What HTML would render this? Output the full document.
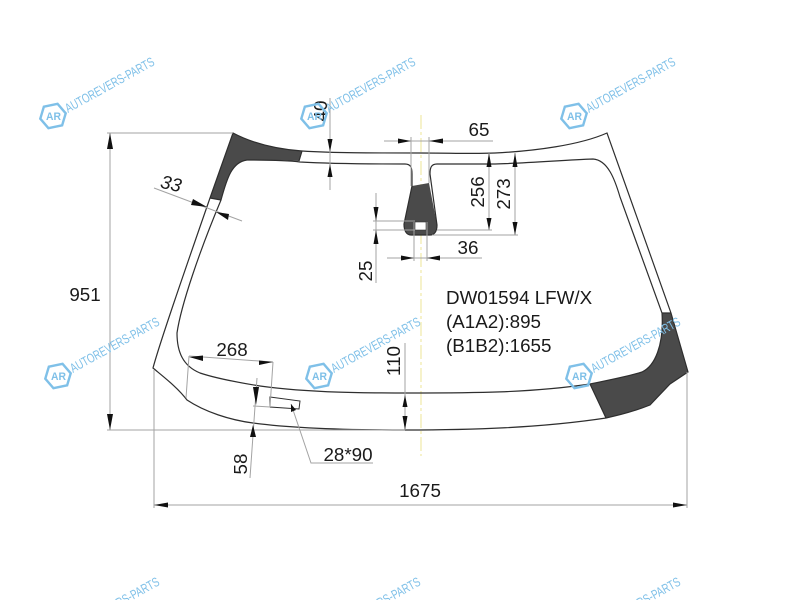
<!DOCTYPE html>
<html><head><meta charset="utf-8"><style>html,body{margin:0;padding:0;background:#fff;width:800px;height:600px;overflow:hidden}svg{display:block}text{font-family:"Liberation Sans",sans-serif;fill:#1a1a1a}.w{font-size:13px;fill:#7fc0e8}.a{font-size:11px;fill:#7fc0e8;font-weight:bold}.h{fill:none;stroke:#7fc0e8;stroke-width:2.4}</style></head><body>
<svg width="800" height="600" viewBox="0 0 800 600" xmlns="http://www.w3.org/2000/svg">
<!-- yellow centre line -->
<path d="M421 115V456" stroke="#efe9a8" stroke-width="1.2" stroke-dasharray="14 3 3 3" fill="none"/>
<!-- dark fills -->
<g fill="#4a4a4a" stroke="none">
<path d="M233 133C252 143 275 149 302 151L299 161C285 160 265 160 247 160C232 162 227 178 221 200L210 198Z"/>
<path d="M412 186L429 183L437 225C437 232 434 235 430 235H411C406 235 404 230 404 224Z"/>
<path d="M590 384C610 380 630 376 642 372C655 366 664 345 662 313H671L688 372L670 384L650 405C635 411 620 415 606 418Z"/>
</g>
<rect x="415" y="222" width="11" height="8" fill="#fff" stroke="#333" stroke-width=".6"/>
<!-- glass outline -->
<g fill="none" stroke="#2e2e2e" stroke-width="1.2">
<path d="M233 133C252 143 275 149 302 151C335 153 370 153 420 153C450 153 475 154 495 153C535 151 580 145 607 133L671 313L688 372L670 384L650 405C635 411 620 415 606 418C540 428 470 430 405 430C340 430 290 428 253 423C230 420 205 412 187 400C178 388 165 378 153 368C160 342 185 270 210 198Z"/>
<path d="M247 160C265 160 285 160 300 162C335 164 375 164 405 164C411 164 412 168 412 174V186L404 224C404 230 406 235 411 235H430C434 235 437 232 437 225L430 174C430 168 431 164 437 164H495C530 163 565 160 593 159C608 160 615 180 620 197L662 313C664 345 655 366 642 372C630 376 610 380 590 384C530 393 470 393 410 393C370 393 310 393 260 386C235 382 215 378 200 373C183 366 177 352 177 333C181 305 200 250 221 200C227 178 232 162 247 160Z"/>
<path d="M210 198L221 200M302 151L299 161M662 313H671M590 384L606 418"/>
<path d="M270 397L300 401L299 409L270 407Z" stroke-width="1"/>
</g>
<!-- dimension lines -->
<g fill="none" stroke="#a3a3a3" stroke-width="1">
<path d="M107 133H233M107 430H405M110 133V430"/>
<path d="M154 370V508M687 372V508M154 505H687"/>
<path d="M154 188L242 221"/>
<path d="M330 98V190"/>
<path d="M384 141H493M411 137V186M429 137V183"/>
<path d="M489 153V230M437 230H492M515 153V235M432 235H518"/>
<path d="M387 258H482M414 222V261M427 222V261"/>
<path d="M376 193V283M373 221H415M373 230H415"/>
<path d="M189 356L273 362M189 356L186 398M273 362L270 407"/>
<path d="M257 378L250 478M253 406L270 407"/>
<path d="M405 343V430"/>
<path d="M291 404L311 463H373"/>
</g>
<!-- arrowheads -->
<g fill="#111" stroke="none">
<path d="M110 133L107 149H113Z"/><path d="M110 430L107 414H113Z"/>
<path d="M154 505L168 502.500V507.500Z"/><path d="M687 505L673 502.500V507.500Z"/>
<path d="M207 207L193 199L191 205Z"/><path d="M216 212L229 214L228 220Z"/>
<path d="M330 152L327.500 139H332.500Z"/><path d="M330 164L327.500 177H332.500Z"/>
<path d="M411 141L398 138.500V143.500Z"/><path d="M429 141L443 138.500V143.500Z"/>
<path d="M489 153L486.500 167H491.500Z"/><path d="M489 230L486.500 218H491.500Z"/>
<path d="M515 153L512.500 167H517.500Z"/><path d="M515 235L512.500 222H517.500Z"/>
<path d="M414 258L401 255.500V260.500Z"/><path d="M427 258L440 255.500V260.500Z"/>
<path d="M376 221L373.500 207H378.500Z"/><path d="M376 230L373.500 244H378.500Z"/>
<path d="M189 357L203 355.500L203 361Z"/><path d="M273 362L259 360.500L259 365Z"/>
<path d="M256 405L253 387H259Z"/><path d="M253 425L250 437H256Z"/>
<path d="M405 395L402.500 407H407.500Z"/><path d="M405 430L402.500 416H407.500Z"/>
<path d="M291 404L291 412L296 410Z"/>
</g>
<!-- labels -->
<g font-size="18.800">
<text x="85" y="301" text-anchor="middle">951</text>
<text x="420" y="497" text-anchor="middle">1675</text>
<text x="479" y="136" text-anchor="middle">65</text>
<text x="468" y="254" text-anchor="middle">36</text>
<text x="232" y="356" text-anchor="middle">268</text>
<text x="348" y="461" text-anchor="middle">28*90</text>
<text transform="translate(171 184) rotate(13)" text-anchor="middle" font-style="italic" y="6">33</text>
<text transform="translate(327 111) rotate(-90)" text-anchor="middle">40</text>
<text transform="translate(484 192) rotate(-90)" text-anchor="middle">256</text>
<text transform="translate(510 194) rotate(-90)" text-anchor="middle">273</text>
<text transform="translate(372 271) rotate(-90)" text-anchor="middle">25</text>
<text transform="translate(400 361) rotate(-90)" text-anchor="middle">110</text>
<text transform="translate(247 464) rotate(-90)" text-anchor="middle">58</text>
<text x="446" y="304">DW01594 LFW/X</text>
<text x="446" y="328">(A1A2):895</text>
<text x="446" y="352">(B1B2):1655</text>
</g>
<!-- watermarks -->
<g transform="translate(53 116)"><path class="h" d="M-7-11H7L13 0L7 11H-7L-13 0Z" transform="rotate(-12)"/><text class="a" x="-7" y="4" textLength="15" lengthAdjust="spacingAndGlyphs">AR</text><text class="w" transform="translate(15 -3) rotate(-29)" textLength="100" lengthAdjust="spacingAndGlyphs">AUTOREVERS-PARTS</text></g>
<g transform="translate(314 116)"><path class="h" d="M-7-11H7L13 0L7 11H-7L-13 0Z" transform="rotate(-12)"/><text class="a" x="-7" y="4" textLength="15" lengthAdjust="spacingAndGlyphs">AR</text><text class="w" transform="translate(15 -3) rotate(-29)" textLength="100" lengthAdjust="spacingAndGlyphs">AUTOREVERS-PARTS</text></g>
<g transform="translate(574 116)"><path class="h" d="M-7-11H7L13 0L7 11H-7L-13 0Z" transform="rotate(-12)"/><text class="a" x="-7" y="4" textLength="15" lengthAdjust="spacingAndGlyphs">AR</text><text class="w" transform="translate(15 -3) rotate(-29)" textLength="100" lengthAdjust="spacingAndGlyphs">AUTOREVERS-PARTS</text></g>
<g transform="translate(58 376)"><path class="h" d="M-7-11H7L13 0L7 11H-7L-13 0Z" transform="rotate(-12)"/><text class="a" x="-7" y="4" textLength="15" lengthAdjust="spacingAndGlyphs">AR</text><text class="w" transform="translate(15 -3) rotate(-29)" textLength="100" lengthAdjust="spacingAndGlyphs">AUTOREVERS-PARTS</text></g>
<g transform="translate(319 376)"><path class="h" d="M-7-11H7L13 0L7 11H-7L-13 0Z" transform="rotate(-12)"/><text class="a" x="-7" y="4" textLength="15" lengthAdjust="spacingAndGlyphs">AR</text><text class="w" transform="translate(15 -3) rotate(-29)" textLength="100" lengthAdjust="spacingAndGlyphs">AUTOREVERS-PARTS</text></g>
<g transform="translate(579 376)"><path class="h" d="M-7-11H7L13 0L7 11H-7L-13 0Z" transform="rotate(-12)"/><text class="a" x="-7" y="4" textLength="15" lengthAdjust="spacingAndGlyphs">AR</text><text class="w" transform="translate(15 -3) rotate(-29)" textLength="100" lengthAdjust="spacingAndGlyphs">AUTOREVERS-PARTS</text></g>
<g transform="translate(58 636)"><text class="w" transform="translate(15 -3) rotate(-29)" textLength="100" lengthAdjust="spacingAndGlyphs">AUTOREVERS-PARTS</text></g>
<g transform="translate(319 636)"><text class="w" transform="translate(15 -3) rotate(-29)" textLength="100" lengthAdjust="spacingAndGlyphs">AUTOREVERS-PARTS</text></g>
<g transform="translate(579 636)"><text class="w" transform="translate(15 -3) rotate(-29)" textLength="100" lengthAdjust="spacingAndGlyphs">AUTOREVERS-PARTS</text></g>
</svg>
</body></html>
